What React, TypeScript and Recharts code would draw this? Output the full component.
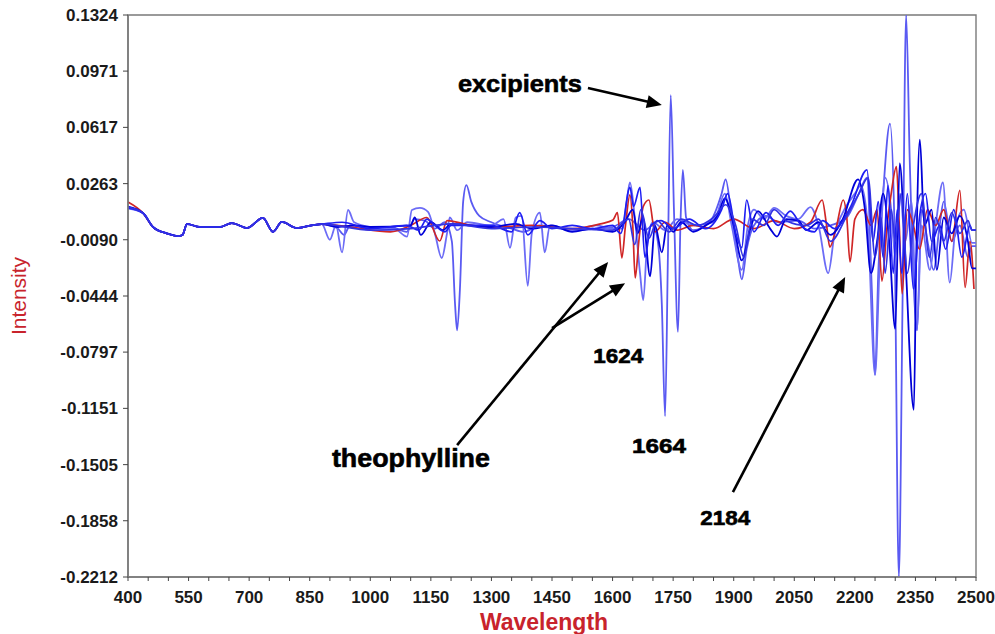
import { LineChart, Line, XAxis, YAxis, ReferenceArea, ReferenceLine, ReferenceDot } from "recharts"

const xTicks = [
  400, 450, 500, 550, 600, 650, 700, 750, 800, 850, 900, 950, 1000, 1050, 1100, 1150, 1200, 1250, 1300, 1350, 1400,
  1450, 1500, 1550, 1600, 1650, 1700, 1750, 1800, 1850, 1900, 1950, 2000, 2050, 2100, 2150, 2200, 2250, 2300, 2350,
  2400, 2450, 2500,
]
const yTicks = [0.1324, 0.0971, 0.0617, 0.0263, -0.009, -0.0444, -0.0797, -0.1151, -0.1505, -0.1858, -0.2212]

// all spectra run together up to ~880 nm
const basePts = [
  [437, 0.0078], [462, -0.001], [496, -0.005], [524, -0.0067], [535, -0.006], [546, 0.0009], [578, -0.001],
  [628, -0.001], [657, 0.0015], [695, -0.0016], [734, 0.0047], [759, -0.004], [781, 0.0022], [818, -0.0016],
  [858, 0.0002], [880, 0.0008],
]

// value at 400 nm for exc, b3, b1, b2, b4, red
const startValues = [0.0112, 0.0106, 0.0118, 0.011, 0.0115, 0.0148]

const excPts = [
  [900, 0.0], [920, -0.002], [935, -0.006], [950, 0.0], [980, -0.001], [1050, -0.001], [1090, -0.004], [1110, 0.004],
  [1135, 0.003], [1160, -0.002], [1185, 0.002], [1202, -0.01], [1210, -0.05], [1215, -0.066], [1222, -0.04],
  [1230, 0.015], [1238, 0.0254], [1250, 0.015], [1270, 0.006], [1300, 0.002], [1350, -0.002], [1380, -0.004],
  [1420, 0.0], [1500, -0.003], [1560, -0.002], [1600, -0.001], [1640, 0.004], [1680, -0.003], [1700, 0.0],
  [1712, -0.01], [1722, -0.05], [1730, -0.12], [1737, -0.02], [1744, 0.082], [1752, 0.01], [1762, -0.067],
  [1768, 0.0], [1774, 0.035], [1782, 0.005], [1800, -0.003], [1840, 0.002], [1870, 0.02], [1880, 0.029],
  [1895, 0.005], [1910, -0.02], [1920, -0.034], [1932, -0.015], [1950, 0.0], [1980, 0.006], [2010, 0.002],
  [2060, 0.003], [2100, -0.002], [2140, 0.0], [2180, 0.005], [2210, 0.02], [2230, 0.03], [2242, -0.04],
  [2250, -0.094], [2258, -0.03], [2270, 0.02], [2287, 0.064], [2298, 0.0], [2309, -0.2212], [2318, -0.05],
  [2327, 0.1324], [2336, 0.04], [2354, -0.066], [2365, 0.01], [2380, -0.01], [2395, -0.028], [2410, 0.0],
  [2420, 0.015], [2440, -0.01], [2460, 0.0], [2480, -0.02], [2490, -0.013], [2500, -0.013],
]

const b3Pts = [
  [900, -0.009], [915, 0.0], [930, -0.017], [945, 0.0097], [960, 0.002], [1000, -0.001], [1060, -0.002],
  [1091, -0.007], [1103, 0.0097], [1123, 0.011], [1143, 0.0085], [1160, -0.005], [1177, -0.0205], [1190, -0.005],
  [1197, 0.005], [1215, -0.003], [1240, 0.002], [1300, 0.0], [1330, 0.004], [1346, -0.014], [1360, 0.005],
  [1375, 0.006], [1390, -0.038], [1400, -0.005], [1420, 0.008], [1432, -0.017], [1445, 0.0], [1500, -0.003],
  [1560, 0.0], [1600, -0.002], [1625, -0.002], [1635, 0.015], [1643, 0.027], [1655, 0.005], [1668, -0.03],
  [1676, -0.047], [1686, -0.01], [1700, 0.002], [1730, -0.003], [1760, 0.004], [1800, 0.0], [1850, 0.002],
  [1878, 0.02], [1895, 0.0], [1920, -0.028], [1935, 0.0], [1950, 0.01], [1975, 0.004], [2000, 0.011],
  [2030, 0.006], [2060, 0.004], [2090, 0.0115], [2110, 0.0], [2134, -0.03], [2150, -0.005], [2170, 0.008],
  [2200, 0.02], [2215, 0.025], [2232, 0.0], [2250, -0.094], [2262, -0.02], [2275, 0.03], [2290, 0.01],
  [2300, -0.02], [2312, 0.02], [2325, -0.01], [2340, 0.015], [2354, -0.066], [2365, 0.0], [2386, -0.028],
  [2400, 0.0], [2418, 0.027], [2435, -0.036], [2450, 0.0], [2470, 0.01], [2490, -0.011], [2500, -0.011],
]

const b1Pts = [
  [920, -0.001], [960, 0.0], [1000, -0.001], [1100, 0.0], [1110, 0.005], [1125, -0.006], [1150, 0.002],
  [1180, -0.003], [1200, 0.001], [1250, 0.0], [1300, -0.001], [1360, 0.001], [1400, -0.002], [1450, 0.0],
  [1500, -0.004], [1550, -0.002], [1600, -0.004], [1630, 0.002], [1650, 0.01], [1662, -0.005], [1675, 0.005],
  [1693, -0.032], [1705, 0.0], [1722, -0.017], [1735, 0.0], [1750, -0.004], [1770, 0.002], [1800, -0.004],
  [1830, 0.0], [1860, 0.006], [1878, 0.017], [1900, 0.0], [1920, -0.022], [1940, -0.003], [1960, 0.009],
  [1990, -0.002], [2007, -0.007], [2030, 0.004], [2060, 0.003], [2080, -0.003], [2110, 0.002], [2140, -0.006],
  [2170, 0.004], [2208, 0.029], [2225, 0.01], [2240, -0.03], [2255, -0.01], [2270, 0.02], [2285, -0.01],
  [2300, -0.065], [2311, 0.039], [2325, -0.02], [2346, -0.116], [2352, -0.02], [2361, 0.054], [2372, 0.0],
  [2390, 0.01], [2403, -0.028], [2420, 0.005], [2440, -0.005], [2460, 0.006], [2480, -0.01], [2490, -0.027],
  [2500, -0.027],
]

const b2Pts = [
  [930, 0.002], [1000, -0.002], [1090, 0.0], [1120, -0.003], [1140, 0.004], [1160, 0.0], [1185, -0.004],
  [1200, 0.0], [1300, 0.0], [1350, -0.004], [1370, 0.008], [1390, -0.006], [1420, 0.003], [1450, -0.002],
  [1500, 0.0], [1550, -0.002], [1600, 0.0], [1620, -0.005], [1643, 0.024], [1652, 0.012], [1668, 0.024],
  [1680, -0.02], [1695, 0.0], [1720, 0.003], [1750, -0.002], [1790, 0.004], [1830, -0.002], [1870, 0.01],
  [1885, 0.02], [1905, -0.005], [1920, -0.014], [1932, 0.016], [1950, -0.004], [1980, 0.008], [2010, 0.0],
  [2040, 0.009], [2070, -0.001], [2100, -0.004], [2120, 0.003], [2150, -0.002], [2190, 0.012], [2230, 0.035],
  [2245, -0.01], [2258, 0.015], [2270, -0.02], [2282, 0.025], [2295, -0.03], [2305, 0.01], [2316, -0.03],
  [2330, 0.02], [2345, -0.04], [2360, 0.005], [2375, 0.02], [2390, -0.01], [2410, 0.0], [2425, -0.015],
  [2445, 0.01], [2465, -0.02], [2485, 0.0], [2490, -0.003], [2500, -0.003],
]

const b4Pts = [
  [1000, -0.003], [1100, -0.002], [1200, 0.001], [1300, -0.002], [1400, -0.001], [1500, -0.002], [1600, -0.003],
  [1640, 0.004], [1655, -0.012], [1670, 0.01], [1690, -0.008], [1710, 0.003], [1740, -0.004], [1770, 0.004],
  [1810, 0.0], [1850, 0.005], [1880, 0.013], [1905, 0.0], [1925, -0.02], [1945, 0.004], [1975, 0.0],
  [2000, 0.01], [2030, 0.003], [2080, 0.0], [2110, 0.004], [2140, -0.01], [2180, 0.006], [2210, 0.02],
  [2233, 0.03], [2250, -0.02], [2265, 0.005], [2275, -0.03], [2290, 0.01], [2300, -0.01], [2315, 0.02],
  [2330, -0.03], [2345, 0.0], [2365, 0.02], [2385, -0.02], [2400, 0.005], [2420, -0.01], [2440, 0.008],
  [2460, -0.005], [2480, 0.003], [2490, -0.003], [2500, -0.003],
]

const redPts = [
  [950, -0.001], [1050, -0.004], [1100, 0.0], [1140, 0.005], [1172, -0.0098], [1190, 0.003], [1250, 0.0],
  [1300, -0.001], [1400, 0.0], [1500, -0.002], [1570, 0.001], [1601, 0.0034], [1612, 0.008], [1623, -0.0204],
  [1632, 0.0], [1643, 0.0192], [1650, 0.0], [1656, -0.033], [1665, -0.01], [1676, 0.012], [1690, 0.016],
  [1705, -0.004], [1730, 0.002], [1760, -0.003], [1800, 0.0], [1850, -0.002], [1900, 0.004], [1950, -0.002],
  [2000, 0.003], [2050, -0.002], [2090, 0.002], [2119, 0.016], [2130, 0.0], [2138, -0.0136], [2155, 0.0],
  [2171, 0.016], [2180, 0.005], [2188, -0.023], [2200, 0.004], [2220, 0.01], [2240, 0.0], [2255, 0.01],
  [2267, -0.035], [2280, 0.0], [2290, 0.02], [2303, 0.037], [2310, 0.0], [2317, -0.043], [2330, 0.01],
  [2345, 0.0], [2360, -0.015], [2380, 0.01], [2400, 0.0], [2420, 0.01], [2440, -0.01], [2460, 0.022],
  [2473, -0.039], [2485, -0.01], [2495, -0.04],
]

const build = (start: number, pts: number[][]) =>
  [[400, start], ...basePts, ...pts].map(([wl, v]) => ({ wl, v }))

const series = [
  { key: "exc", color: "#5a5af2", width: 1.8, data: build(startValues[0], excPts) },
  { key: "b3", color: "#6c6cf6", width: 1.8, data: build(startValues[1], b3Pts) },
  { key: "red", color: "#d02626", width: 1.7, data: build(startValues[5], redPts) },
  { key: "b1", color: "#0000d8", width: 1.8, data: build(startValues[2], b1Pts) },
  { key: "b2", color: "#1e1ef4", width: 1.7, data: build(startValues[3], b2Pts) },
  { key: "b4", color: "#3232e4", width: 1.7, data: build(startValues[4], b4Pts) },
]

// annotation texts placed in data coordinates
const notes = [
  { text: "excipients", wl: 1217, v: 0.0839, len: 124, size: 24 },
  { text: "theophylline", wl: 905, v: -0.152, len: 158, size: 25 },
  { text: "1624", wl: 1552, v: -0.0866, len: 50, size: 21 },
  { text: "1664", wl: 1648, v: -0.143, len: 54, size: 21 },
  { text: "2184", wl: 1817, v: -0.1886, len: 50, size: 21 },
]
const arrows = [
  [[1539, 0.0865], [1722, 0.0758]],
  [[1215, -0.1382], [1589, -0.023]],
  [[1450, -0.0646], [1631, -0.0363]],
  [[1898, -0.1678], [2176, -0.0325]],
]

const font = "'Liberation Sans', Arial, sans-serif"
const axisColor = "#7a7a7a"
const labelRed = "#c8232c"

function ArrowShape(p: any) {
  const { x1, y1, x2, y2 } = p
  const dx = x2 - x1
  const dy = y2 - y1
  const len = Math.hypot(dx, dy) || 1
  const ux = dx / len
  const uy = dy / len
  const hl = 15
  const hw = 6.5
  const bx = x2 - ux * hl
  const by = y2 - uy * hl
  const pts = `${x2},${y2} ${bx - uy * hw},${by + ux * hw} ${bx + uy * hw},${by - ux * hw}`
  return (
    <g>
      <line x1={x1} y1={y1} x2={bx + ux * 2} y2={by + uy * 2} stroke="#000" strokeWidth={2.6} />
      <polygon points={pts} fill="#000" />
    </g>
  )
}

function XTick(p: any) {
  const { x, y, payload } = p
  if ((payload.value - 400) % 150 !== 0) return <g />
  return (
    <text x={x} y={y} dy={14} textAnchor="middle" fontSize={17} fontWeight="bold" fill="#1a1a1a">
      {payload.value}
    </text>
  )
}

export default function App() {
  return (
    <div style={{ position: "absolute", left: 0, top: 0, width: 995, height: 634, fontFamily: font, background: "#fff" }}>
      <LineChart width={995} height={634} margin={{ top: 15, right: 19, bottom: 0, left: 0 }}>
        <XAxis
          dataKey="wl"
          type="number"
          domain={[400, 2500]}
          ticks={xTicks}
          interval={0}
          allowDataOverflow
          height={57}
          tickSize={4}
          tickMargin={8}
          tick={<XTick />}
          axisLine={{ stroke: axisColor, strokeWidth: 1.6 }}
          tickLine={{ stroke: "#444" }}
          label={(props: any) => {
            const vb = props.viewBox
            return (
              <text x={vb.x + vb.width / 2 - 8} y={vb.y + 53} textAnchor="middle" fontSize={23} fontWeight="bold" fill={labelRed}>
                Wavelength
              </text>
            )
          }}
        />
        <YAxis
          dataKey="v"
          type="number"
          domain={[-0.2212, 0.1324]}
          ticks={yTicks}
          interval={0}
          allowDataOverflow
          width={128}
          tickSize={5}
          tickMargin={5}
          tickFormatter={(v: number) => v.toFixed(4)}
          tick={{ fontSize: 17, fontWeight: "bold", fill: "#1a1a1a" }}
          axisLine={{ stroke: axisColor, strokeWidth: 1.6 }}
          tickLine={{ stroke: "#444" }}
          label={(props: any) => {
            const vb = props.viewBox
            const cx = vb.x + 18
            const cy = vb.y + vb.height / 2
            return (
              <text
                x={cx}
                y={cy}
                transform={`rotate(-90, ${cx}, ${cy})`}
                textAnchor="middle"
                dominantBaseline="central"
                fontSize={21}
                fill={labelRed}
              >
                Intensity
              </text>
            )
          }}
        />
        <ReferenceArea x1={400} x2={2500} y1={-0.2212} y2={0.1324} fill="none" stroke={axisColor} strokeWidth={1.4} />
        {series.map((s) => (
          <Line
            key={s.key}
            data={s.data}
            dataKey="v"
            type="monotone"
            stroke={s.color}
            strokeWidth={s.width}
            dot={false}
            activeDot={false}
            isAnimationActive={false}
          />
        ))}
        {arrows.map((a, i) => (
          <ReferenceLine
            key={`arrow-${i}`}
            segment={[
              { x: a[0][0], y: a[0][1] },
              { x: a[1][0], y: a[1][1] },
            ]}
            shape={ArrowShape}
          />
        ))}
        {notes.map((n) => (
          <ReferenceDot
            key={n.text}
            x={n.wl}
            y={n.v}
            r={0}
            shape={(p: any) => (
              <text
                x={p.cx}
                y={p.cy}
                fontSize={n.size}
                fontWeight="bold"
                fill="#000"
                stroke="#000"
                strokeWidth={0.6}
                textLength={n.len}
                lengthAdjust="spacingAndGlyphs"
              >
                {n.text}
              </text>
            )}
          />
        ))}
      </LineChart>
    </div>
  )
}
